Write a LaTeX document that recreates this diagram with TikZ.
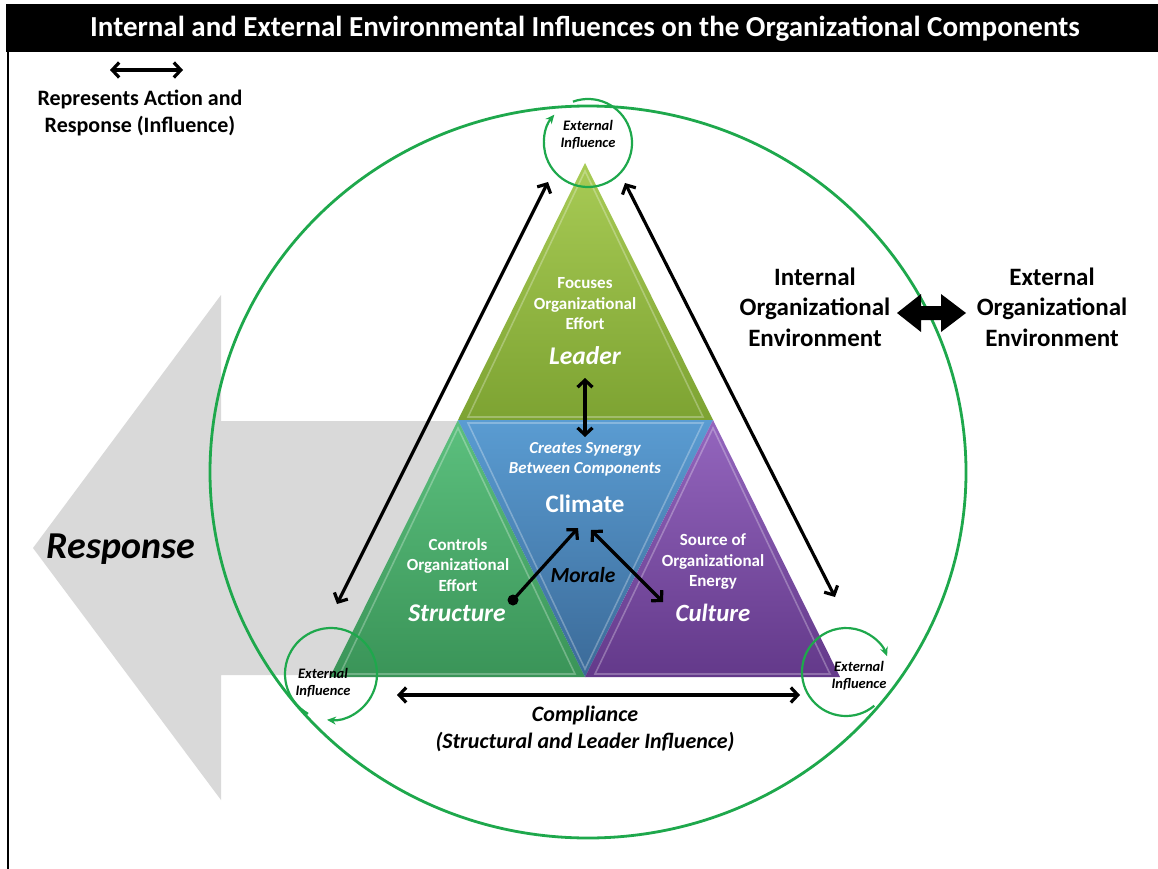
\documentclass[tikz,border=0pt]{standalone}
\usepackage{fontspec}
\setmainfont{Carlito}
\usetikzlibrary{arrows.meta,calc}
\definecolor{ringgreen}{HTML}{1EA84C}
\definecolor{respgray}{HTML}{D9D9D9}
\definecolor{leadtop}{HTML}{A8CB55}
\definecolor{leadbot}{HTML}{7DA332}
\definecolor{structop}{HTML}{5CC07E}
\definecolor{strucbot}{HTML}{3A9458}
\definecolor{climtop}{HTML}{5A9CD2}
\definecolor{climbot}{HTML}{3B6A98}
\definecolor{culttop}{HTML}{9466BE}
\definecolor{cultbot}{HTML}{63398A}
\begin{document}
\begin{tikzpicture}[x=1pt,y=-1pt,
  act/.style={line width=3.2pt,{Straight Barb[length=7pt,width=15pt]}-{Straight Barb[length=7pt,width=15pt]}},
  actone/.style={line width=3.2pt,-{Straight Barb[length=7pt,width=15pt]}},
  ring/.style={draw=ringgreen,line width=2pt},
  swirl/.style={draw=ringgreen,line width=2.2pt,-{Stealth[length=9pt,width=8pt]}},
  extlbl/.style={font=\fontsize{14.5}{17}\selectfont\bfseries\itshape,align=center,text=black},
  wsub/.style={font=\fontsize{17}{20.5}\selectfont\bfseries,align=center,text=white},
  wname/.style={font=\fontsize{25.5}{28}\selectfont\bfseries\itshape,text=white},
  blk/.style={font=\fontsize{25}{30.5}\selectfont\bfseries,align=center,text=black},
  bevel/.style={draw=white,draw opacity=0.28,line width=1.6pt}
]
\useasboundingbox (0,0) rectangle (1158,869);
\fill[white] (0,0) rectangle (1158,869);
% title bar and frame
\fill[black] (6,4) rectangle (1158,52);
\node[font=\fontsize{29}{32}\selectfont\bfseries,text=white] (title) at (585,29)
  {Internal and External Environmental Influences on the Organizational Components};
\draw[line width=1.2pt] (8,52) -- (8,869);
% legend
\coordinate (legL) at (110,70);
\coordinate (legR) at (183,70);
\draw[act] (legL) -- (legR);
\node[font=\fontsize{22}{27}\selectfont\bfseries,align=center] (legend) at (140,113)
  {Represents Action and\\Response (Influence)};
% response arrow
\fill[respgray] (33,548) -- (221,295) -- (221,421) -- (600,421) -- (600,675)
  -- (221,675) -- (221,800) -- cycle;
\node[font=\fontsize{38}{40}\selectfont\bfseries\itshape] (resp) at (121,549) {Response};
% big ring
\draw[ring,line width=2.8pt] (588,472) ellipse [x radius=378,y radius=366];
% triangles
\coordinate (A) at (585,163);
\coordinate (L1) at (458,420);
\coordinate (L2) at (713,420);
\coordinate (B1) at (330,677);
\coordinate (B2) at (585,677);
\coordinate (B3) at (840,677);
\shade[top color=leadtop,bottom color=leadbot] (A) -- (L2) -- (L1) -- cycle;
\shade[top color=structop,bottom color=strucbot] (L1) -- (B2) -- (B1) -- cycle;
\shade[top color=climtop,bottom color=climbot] (L1) -- (L2) -- (B2) -- cycle;
\shade[top color=culttop,bottom color=cultbot] (L2) -- (B3) -- (B2) -- cycle;
\draw[bevel] ($(A)+(0,8)$) -- ($(L2)+(-10,-3)$) -- ($(L1)+(10,-3)$) -- cycle;
\draw[bevel] ($(L1)+(0,8)$) -- ($(B2)+(-10,-3)$) -- ($(B1)+(10,-3)$) -- cycle;
\draw[bevel] ($(L1)+(10,3)$) -- ($(L2)+(-10,3)$) -- ($(B2)+(0,-8)$) -- cycle;
\draw[bevel] ($(L2)+(0,8)$) -- ($(B3)+(-10,-3)$) -- ($(B2)+(10,-3)$) -- cycle;
% triangle texts
\node[wsub] (focus) at (585,304) {Focuses\\Organizational\\Effort};
\node[wname] (leader) at (585,356) {Leader};
\node[font=\fontsize{16.8}{20}\selectfont\bfseries\itshape,align=center,text=white] (synergy) at (585,459)
  {Creates Synergy\\Between Components};
\node[font=\fontsize{25}{28}\selectfont\bfseries,text=white] (climate) at (585,504) {Climate};
\node[wsub] (controls) at (458,565) {Controls\\Organizational\\Effort};
\node[wname] (structure) at (457,613) {Structure};
\node[font=\fontsize{21.5}{24}\selectfont\bfseries\itshape] (morale) at (583,575) {Morale};
\node[wsub] (source) at (713,562) {Source of\\Organizational\\Energy};
\node[wname,font=\fontsize{24.8}{28}\selectfont\bfseries\itshape] (culture) at (713,613) {Culture};
% inner arrows
\coordinate (lcA) at (585,378);
\coordinate (lcB) at (585,437);
\draw[act] (lcA) -- (lcB);
\coordinate (dot) at (513,600);
\coordinate (climS) at (578,528);
\coordinate (climC) at (591,530);
\coordinate (cult) at (663,602);
\fill (dot) circle (5.5);
\draw[actone] (dot) -- (climS);
\draw[act] (climC) -- (cult);
% long arrows
\coordinate (topL) at (548,182);
\coordinate (botL) at (337,604);
\coordinate (topR) at (625,183);
\coordinate (botR) at (835,597);
\draw[act] (topL) -- (botL);
\draw[act] (topR) -- (botR);
% compliance
\coordinate (compL) at (397,695);
\coordinate (compR) at (800,695);
\draw[act] (compL) -- (compR);
\node[font=\fontsize{22}{27.5}\selectfont\bfseries\itshape,align=center] (compliance) at (585,729)
  {Compliance\\(Structural and Leader Influence)};
% external influence swirls
\coordinate (ct) at (588,143);
\coordinate (cl) at (331,674);
\coordinate (cr) at (846,672);
\draw[swirl] ($(ct)+(-110:44)$) arc [start angle=-110,end angle=220,radius=44];
\draw[swirl] ($(cl)+(-240:46)$) arc [start angle=-240,end angle=95,radius=46];
\draw[swirl] ($(cr)+(50:44)$) arc [start angle=50,end angle=339,radius=44];
\node[extlbl] (extT) at (588,135) {External\\Influence};
\node[extlbl] (extL) at (323,683) {External\\Influence};
\node[extlbl] (extR) at (859,676) {External\\Influence};
% environments
\node[blk] (internal) at (815,307) {Internal\\Organizational\\Environment};
\node[blk] (external) at (1052,307) {External\\Organizational\\Environment};
\fill (897,313) -- (921,294) -- (921,306) -- (941,306) -- (941,294) -- (966,313)
  -- (941,332) -- (941,320) -- (921,320) -- (921,332) -- cycle;
\end{tikzpicture}
\end{document}
